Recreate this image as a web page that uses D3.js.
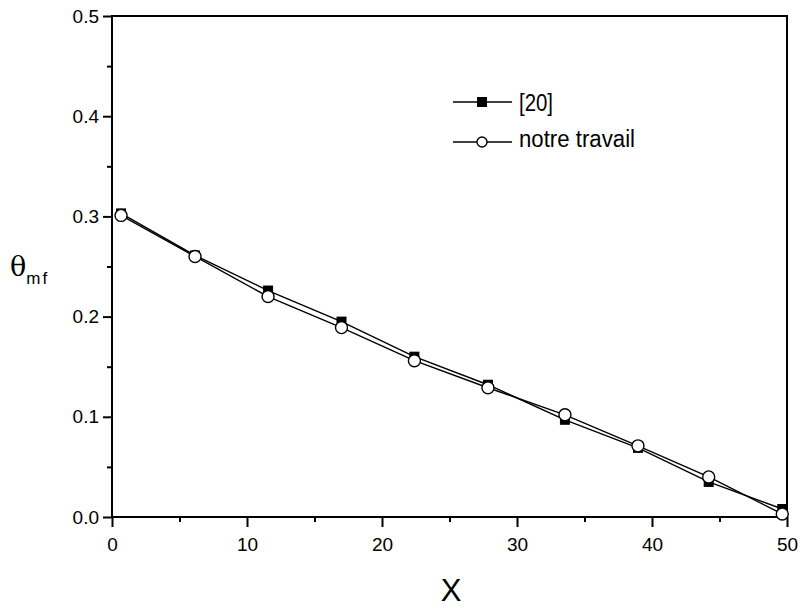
<!DOCTYPE html>
<html>
<head>
<meta charset="utf-8">
<script src="https://cdn.jsdelivr.net/npm/d3@7"></script>
<style>
  body { margin: 0; background: #fff; }
  text { font-family: "Liberation Sans", Arial, sans-serif; }
</style>
</head>
<body>
<svg width="801" height="608"></svg>
<script>
// data
var xVals = [0.67, 6.15, 11.56, 17.0, 22.4, 27.85, 33.55, 38.96, 44.2, 49.65];
var ref20 = [0.303, 0.261, 0.226, 0.195, 0.160, 0.132, 0.097, 0.069, 0.035, 0.008];
var notreTravail = [0.301, 0.260, 0.220, 0.189, 0.156, 0.129, 0.102, 0.071, 0.040, 0.003];
var xTicks = [0, 10, 20, 30, 40, 50];
var yTicks = [0.0, 0.1, 0.2, 0.3, 0.4, 0.5];

var svg = d3.select("svg"),
    pLeft = 112, pTop = 16, pRight = 787, pBottom = 517;

var xScale = d3.scaleLinear().domain([0, 50]).range([pLeft, pRight]),
    yScale = d3.scaleLinear().domain([0, 0.5]).range([pBottom, pTop]);

// frame
svg.append("rect")
    .attr("x", pLeft).attr("y", pTop)
    .attr("width", pRight - pLeft).attr("height", pBottom - pTop)
    .style("fill", "none").style("stroke", "#000").style("stroke-width", 2);

// x axis
var xAxis = svg.append("g")
    .attr("transform", "translate(0," + pBottom + ")")
    .call(d3.axisBottom(xScale).tickValues(xTicks).tickSize(10).tickPadding(11).tickFormat(d3.format("d")));
xAxis.select(".domain").remove();
xAxis.selectAll("line").style("stroke-width", 2);
xAxis.selectAll("text").style("font-size", "19px").style("font-family", "Liberation Sans, Arial").attr("fill", "#000");

svg.append("g")
    .attr("transform", "translate(0," + pBottom + ")")
    .call(d3.axisBottom(xScale).tickValues([5, 15, 25, 35, 45]).tickSize(5).tickFormat(""))
    .call(function(g) { g.select(".domain").remove(); g.selectAll("line").style("stroke-width", 2); });

// y axis
var yAxis = svg.append("g")
    .attr("transform", "translate(" + pLeft + ",0)")
    .call(d3.axisLeft(yScale).tickValues(yTicks).tickSize(9).tickPadding(4).tickFormat(d3.format(".1f")));
yAxis.select(".domain").remove();
yAxis.selectAll("line").style("stroke-width", 2);
yAxis.selectAll("text").style("font-size", "19px").style("font-family", "Liberation Sans, Arial").attr("fill", "#000");

svg.append("g")
    .attr("transform", "translate(" + pLeft + ",0)")
    .call(d3.axisLeft(yScale).tickValues([0.05, 0.15, 0.25, 0.35, 0.45]).tickSize(5).tickFormat(""))
    .call(function(g) { g.select(".domain").remove(); g.selectAll("line").style("stroke-width", 2); });

// axis titles
svg.append("text")
    .attr("x", 451).attr("y", 601)
    .attr("text-anchor", "middle")
    .style("font-size", "31px")
    .text("X");

var yt = svg.append("text").attr("x", 10).attr("y", 276);
yt.append("tspan").style("font-family", "DejaVu Serif, serif").style("font-size", "27px").text("θ");
yt.append("tspan").attr("dy", 8).style("font-size", "17px").style("letter-spacing", "2px").text("mf");

// lines
var sq = xVals.map(function(x, i) { return { x: x, y: ref20[i] }; }),
    ci = xVals.map(function(x, i) { return { x: x, y: notreTravail[i] }; });

var line = d3.line()
    .x(function(d) { return xScale(d.x); })
    .y(function(d) { return yScale(d.y); });

svg.append("path").datum(sq).attr("d", line)
    .style("fill", "none").style("stroke", "#000").style("stroke-width", 1.4);
svg.append("path").datum(ci).attr("d", line)
    .style("fill", "none").style("stroke", "#000").style("stroke-width", 1.4);

svg.append("g").selectAll("rect")
    .data(sq).enter().append("rect")
    .attr("x", function(d) { return xScale(d.x) - 5; })
    .attr("y", function(d) { return yScale(d.y) - 5; })
    .attr("width", 10).attr("height", 10)
    .style("fill", "#000");

svg.append("g").selectAll("circle")
    .data(ci).enter().append("circle")
    .attr("cx", function(d) { return xScale(d.x); })
    .attr("cy", function(d) { return yScale(d.y); })
    .attr("r", 6)
    .style("fill", "#fff").style("stroke", "#000").style("stroke-width", 1.4);

// legend
var lg = svg.append("g");
lg.append("line").attr("x1", 453).attr("x2", 512).attr("y1", 102).attr("y2", 102)
    .style("stroke", "#000").style("stroke-width", 1.4);
lg.append("rect").attr("x", 477).attr("y", 97).attr("width", 10).attr("height", 10).style("fill", "#000");
lg.append("text").attr("x", 519).attr("y", 111).style("font-size", "23px")
    .attr("textLength", 34).attr("lengthAdjust", "spacingAndGlyphs").text("[20]");

lg.append("line").attr("x1", 453).attr("x2", 512).attr("y1", 142).attr("y2", 142)
    .style("stroke", "#000").style("stroke-width", 1.4);
lg.append("circle").attr("cx", 482).attr("cy", 142).attr("r", 5)
    .style("fill", "#fff").style("stroke", "#000").style("stroke-width", 1.4);
lg.append("text").attr("x", 519).attr("y", 147).style("font-size", "23px")
    .attr("textLength", 116).attr("lengthAdjust", "spacingAndGlyphs").text("notre travail");
</script>
</body>
</html>
